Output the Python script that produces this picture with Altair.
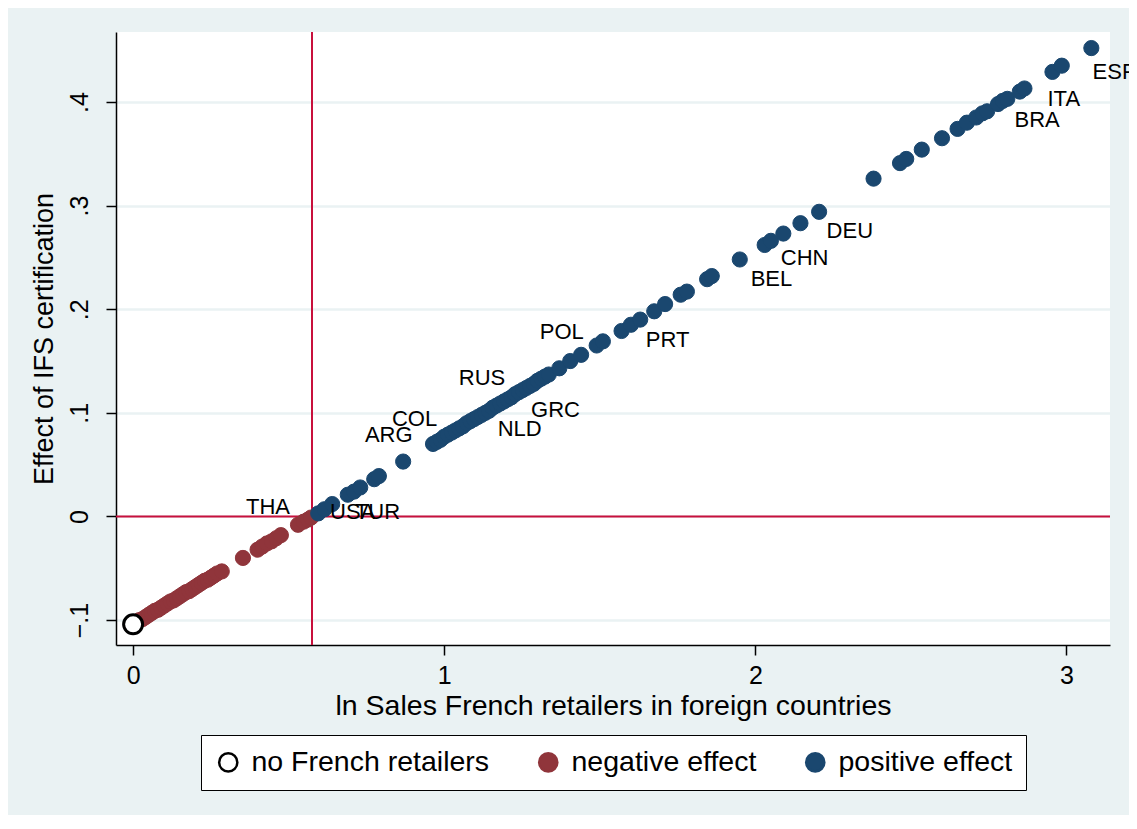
import altair as alt
import pandas as pd

# ---- data ----
none_x = [0.0]
none_y = [-0.104]

neg_x = [0.01, 0.02, 0.03, 0.04, 0.05, 0.06, 0.07, 0.08, 0.09, 0.10, 0.11, 0.12,
         0.13, 0.14, 0.15, 0.16, 0.17, 0.18, 0.19, 0.20, 0.21, 0.22, 0.23, 0.24,
         0.25, 0.26, 0.27, 0.285, 0.353, 0.40, 0.415, 0.43, 0.445, 0.46, 0.475,
         0.53, 0.548, 0.562, 0.572]
neg_y = [-0.102, -0.100, -0.099, -0.097, -0.095, -0.093, -0.091, -0.090, -0.088,
         -0.086, -0.084, -0.082, -0.081, -0.079, -0.077, -0.075, -0.073, -0.072,
         -0.070, -0.068, -0.066, -0.064, -0.062, -0.061, -0.059, -0.057, -0.055,
         -0.053, -0.040, -0.032, -0.029, -0.026, -0.024, -0.021, -0.018, -0.008,
         -0.005, -0.003, -0.001]

pos_x = [0.595, 0.615, 0.64, 0.69, 0.71, 0.73, 0.775, 0.79, 0.868,
         0.964, 0.976, 0.988, 1.00, 1.012, 1.024, 1.036, 1.048, 1.06, 1.072,
         1.084, 1.096, 1.108, 1.12, 1.132, 1.144, 1.156, 1.168, 1.18, 1.192,
         1.204, 1.216, 1.228, 1.24, 1.252, 1.264, 1.276, 1.288, 1.30, 1.312,
         1.324, 1.336,
         1.37, 1.405, 1.44, 1.49, 1.51, 1.57, 1.60, 1.63, 1.675, 1.71, 1.76,
         1.78, 1.845, 1.86, 1.95, 2.03, 2.05, 2.09, 2.145, 2.205, 2.38, 2.465,
         2.485, 2.535, 2.60, 2.65, 2.68, 2.71, 2.73, 2.745, 2.78, 2.795, 2.81,
         2.85, 2.865, 2.955, 2.985, 3.08]
pos_y = [0.003, 0.007, 0.012, 0.021, 0.024, 0.028, 0.036, 0.039, 0.053,
         0.070, 0.072, 0.074, 0.077, 0.079, 0.081, 0.083, 0.085, 0.087, 0.090,
         0.092, 0.094, 0.096, 0.098, 0.100, 0.102, 0.105, 0.107, 0.109, 0.111,
         0.113, 0.115, 0.118, 0.120, 0.122, 0.124, 0.126, 0.128, 0.131, 0.133,
         0.135, 0.137,
         0.143, 0.150, 0.156, 0.165, 0.169, 0.179, 0.185, 0.190, 0.198, 0.205,
         0.214, 0.217, 0.229, 0.232, 0.248, 0.262, 0.266, 0.273, 0.283, 0.294,
         0.326, 0.341, 0.345, 0.354, 0.365, 0.374, 0.380, 0.385, 0.389, 0.391,
         0.398, 0.401, 0.403, 0.410, 0.413, 0.429, 0.435, 0.452]

label_names = ["THA", "USA", "TUR", "ARG", "COL", "RUS", "NLD", "GRC", "POL",
               "PRT", "BEL", "CHN", "DEU", "BRA", "ITA", "ESP"]
label_x = [0.363, 0.633, 0.713, 0.745, 0.832, 1.047, 1.172, 1.279, 1.307,
           1.648, 1.985, 2.082, 2.229, 2.833, 2.939, 3.084]
label_y = [0.0087, 0.004, 0.004, 0.079, 0.0945, 0.134, 0.084, 0.103, 0.178,
           0.170, 0.2295, 0.249, 0.275, 0.383, 0.403, 0.429]

groups = ["no French retailers", "negative effect", "positive effect"]
x_ticks = [0, 1, 2, 3]
y_ticks = [-0.1, 0, 0.1, 0.2, 0.3, 0.4]
threshold_x = [0.575]
zero_y = [0.0]

# ---- styling ----
RED = "#90353b"
BLUE = "#1a476f"
REFCOL = "#c8103c"
BG = "#eaf2f3"
FONT = "Liberation Sans"

pts = pd.concat([
    pd.DataFrame({"x": neg_x, "y": neg_y, "group": groups[1]}),
    pd.DataFrame({"x": pos_x, "y": pos_y, "group": groups[2]}),
    pd.DataFrame({"x": none_x, "y": none_y, "group": groups[0]}),
], ignore_index=True)
pts["order"] = range(len(pts))

labels = pd.DataFrame({"x": label_x, "y": label_y, "name": label_names})

xscale = alt.Scale(domain=[-0.055, 3.14], nice=False, zero=False)
yscale = alt.Scale(domain=[-0.124, 0.4675], nice=False, zero=False)

legend = alt.Legend(
    title=None, orient="none", direction="horizontal",
    legendX=85, legendY=703,
    strokeColor="black", fillColor="white", padding=13,
    labelFontSize=28.5, labelFont=FONT, labelColor="black", labelLimit=500,
    symbolSize=330, symbolStrokeWidth=2.5, labelOffset=9,
    columnPadding=44, symbolType="circle",
)

xaxis = alt.Axis(values=x_ticks, format="d",
                 title="ln Sales French retailers in foreign countries",
                 grid=False, tickSize=10, tickColor="black", domainColor="black",
                 domainWidth=1.5, tickWidth=1.5,
                 labelFontSize=25, titleFontSize=28.5, labelFont=FONT, titleFont=FONT,
                 labelColor="black", titleColor="black", titleFontWeight="normal",
                 labelPadding=8, titlePadding=3)
yaxis = alt.Axis(values=y_ticks, title="Effect of IFS certification",
                 labelExpr="datum.value == 0 ? '0' : replace(format(datum.value, '.1f'), '0.', '.')",
                 grid=True, gridColor=BG, gridWidth=2.5,
                 tickSize=10, tickColor="black", domainColor="black",
                 domainWidth=1.5, tickWidth=1.5,
                 labelFontSize=25, titleFontSize=27, labelFont=FONT, titleFont=FONT,
                 labelColor="black", titleColor="black", titleFontWeight="normal",
                 labelAngle=270, labelAlign="center", labelBaseline="bottom",
                 labelPadding=14, titlePadding=9)

points = alt.Chart(pts).mark_point(filled=False, opacity=1, shape="circle").encode(
    x=alt.X("x:Q", scale=xscale, axis=xaxis),
    y=alt.Y("y:Q", scale=yscale, axis=yaxis),
    color=alt.Color("group:N", scale=alt.Scale(domain=groups, range=["black", RED, BLUE]),
                    legend=legend),
    fill=alt.Fill("group:N", scale=alt.Scale(domain=groups, range=["white", RED, BLUE]),
                  legend=legend),
    size=alt.condition(alt.datum.group == groups[0], alt.value(360), alt.value(230)),
    strokeWidth=alt.condition(alt.datum.group == groups[0], alt.value(3), alt.value(1)),
    order=alt.Order("order:Q"),
)

vline = alt.Chart(pd.DataFrame({"v": threshold_x})).mark_rule(
    color=REFCOL, strokeWidth=2).encode(x=alt.X("v:Q", scale=xscale))
hline = alt.Chart(pd.DataFrame({"v": zero_y})).mark_rule(
    color=REFCOL, strokeWidth=2).encode(y=alt.Y("v:Q", scale=yscale))

text = alt.Chart(labels).mark_text(
    align="left", baseline="middle", fontSize=22, font=FONT, color="black"
).encode(x=alt.X("x:Q", scale=xscale), y=alt.Y("y:Q", scale=yscale), text="name:N")

chart = alt.layer(vline, hline, points, text).properties(
    width=994, height=613,
    autosize=alt.AutoSizeParams(type="none"),
    padding={"left": 108, "top": 24, "right": 19, "bottom": 170},
    background=BG,
).configure_view(fill="white", stroke=None)

chart.save("out.html", embed_options={"renderer": "svg", "actions": False})
